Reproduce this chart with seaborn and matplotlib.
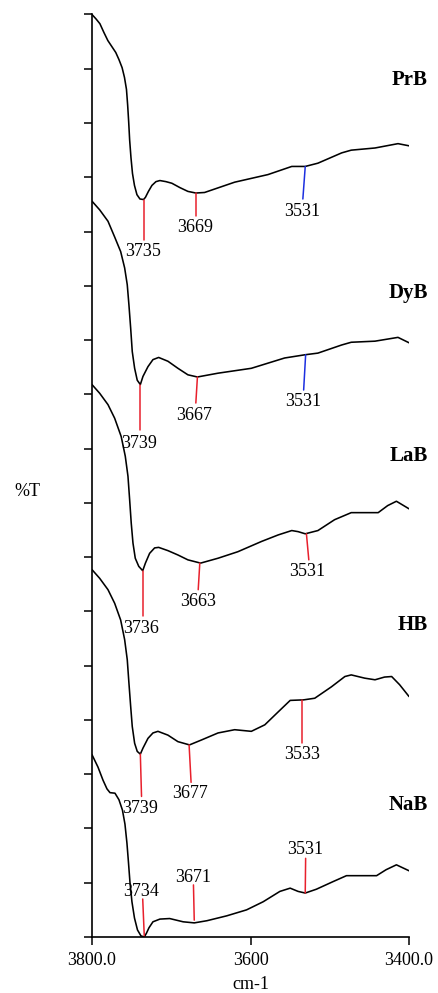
"""IR spectra of the OH region, stacked
"""
import numpy as np
import pandas as pd
import seaborn as sns
import matplotlib.pyplot as plt

sns.set_style("ticks")
plt.rcParams["font.family"] = ["Liberation Serif", "DejaVu Serif"]
for k in ["text.color", "axes.labelcolor", "xtick.color", "ytick.color", "axes.edgecolor"]:
    plt.rcParams[k] = "k"

# spectra, y in stacked tick units (arbitrary %T)
prb_wn = [3800, 3795, 3790, 3785, 3780, 3775, 3770, 3766, 3762, 3759, 3756.5, 3755, 3753.7, 3752.5,
          3750.8, 3748.9, 3746.4, 3743.3, 3739.5, 3735, 3732.6, 3728.8, 3724.4, 3719.3, 3714.3, 3706.7,
          3699.2, 3689.1, 3679, 3669, 3658, 3620, 3578, 3548, 3531, 3515, 3485, 3473, 3443, 3414, 3400]
prb_t = [17.00, 16.92, 16.83, 16.67, 16.52, 16.41, 16.30, 16.17, 16.02, 15.84, 15.62, 15.33, 15.02, 14.69,
         14.36, 14.07, 13.85, 13.68, 13.60, 13.59, 13.63, 13.74, 13.85, 13.92, 13.94, 13.92,
         13.89, 13.81, 13.74, 13.71, 13.72, 13.91, 14.05, 14.20, 14.20, 14.26, 14.45, 14.50, 14.54, 14.62, 14.58]

dyb_wn = [3800, 3790.3, 3779.8, 3771.4, 3763.8, 3758.8, 3755.5, 3753.4, 3751.2, 3749.2, 3746.2, 3742.9,
          3739, 3735.7, 3729.4, 3723.1, 3715.9, 3704.2, 3691.6, 3679, 3667,
          3641, 3599, 3557, 3531, 3515, 3485, 3473, 3443, 3414, 3400]
dyb_t = [13.56, 13.40, 13.19, 12.90, 12.63, 12.33, 12.02, 11.65, 11.22, 10.79, 10.48, 10.26,
         10.18, 10.33, 10.51, 10.64, 10.68, 10.61, 10.48, 10.36, 10.32,
         10.39, 10.48, 10.67, 10.73, 10.76, 10.91, 10.96, 10.98, 11.05, 10.95]

lab_wn = [3800, 3790.3, 3779.8, 3771.4, 3763.1, 3758, 3754.6, 3752.5, 3750.5, 3748.3, 3745.4, 3741,
          3736, 3732.6, 3727.3, 3721, 3715.9, 3704.2, 3691.6, 3679, 3663,
          3641, 3616, 3586, 3565, 3548, 3540, 3531, 3515, 3494, 3473, 3439, 3427, 3416, 3400]
lab_t = [10.18, 10.02, 9.81, 9.56, 9.22, 8.86, 8.49, 8.06, 7.63, 7.26, 6.98, 6.83,
         6.75, 6.89, 7.07, 7.17, 7.18, 7.12, 7.04, 6.95, 6.89,
         6.98, 7.10, 7.29, 7.41, 7.49, 7.47, 7.43, 7.49, 7.69, 7.82, 7.82, 7.95, 8.03, 7.89]

hb_wn = [3800, 3790.3, 3779.8, 3771.4, 3763.8, 3758.8, 3755.5, 3753.4, 3751.2, 3749.2, 3746.2, 3742.9,
         3739, 3735.7, 3729.4, 3723.1, 3716.8, 3704.2, 3691.6, 3677,
         3662, 3641, 3620, 3599, 3582, 3565, 3550, 3533, 3519, 3498, 3481, 3473, 3456, 3443, 3431, 3422, 3412, 3400]
hb_t = [6.77, 6.61, 6.40, 6.15, 5.84, 5.48, 5.11, 4.68, 4.25, 3.88, 3.57, 3.42,
        3.37, 3.48, 3.66, 3.76, 3.79, 3.72, 3.60, 3.54,
        3.63, 3.76, 3.82, 3.79, 3.91, 4.15, 4.36, 4.37, 4.40, 4.61, 4.80, 4.83, 4.77, 4.74, 4.79, 4.80, 4.65, 4.43]

nab_wn = [3800, 3792.4, 3786.1, 3781.1, 3777.3, 3771, 3766, 3761.6, 3758.4, 3755.9, 3754, 3752.1, 3749.6,
          3746.4, 3742.6, 3738.2, 3734, 3731.3, 3728.1, 3723.1, 3714.3, 3702,
          3685, 3671, 3655, 3630, 3605, 3584, 3563, 3550, 3540, 3531, 3517, 3496, 3479, 3441, 3429, 3416, 3400]
nab_t = [3.36, 3.13, 2.89, 2.73, 2.66, 2.65, 2.53, 2.34, 2.08, 1.73, 1.38, 1.01, 0.65,
         0.35, 0.13, 0.02, 0.0, 0.07, 0.17, 0.28, 0.33, 0.34,
         0.28, 0.26, 0.30, 0.39, 0.50, 0.65, 0.84, 0.90, 0.84, 0.81, 0.88, 1.02, 1.13, 1.13, 1.24, 1.33, 1.22]

samples = ["PrB", "DyB", "LaB", "HB", "NaB"]
sample_label_y = [15.80, 11.87, 8.86, 5.75, 2.43]

# peak marks: text, line start (wn, t), line end (wn, t), text centre (wn, t), colour
peaks = [
    ("3735", 3735, 13.59, 3735, 12.85, 3735.5, 12.63, "r"),
    ("3669", 3669, 13.71, 3669, 13.29, 3670.5, 13.07, "r"),
    ("3531", 3531, 14.20, 3534, 13.60, 3535, 13.37, "b"),
    ("3739", 3739, 10.18, 3739, 9.35, 3740.5, 9.10, "r"),
    ("3667", 3667, 10.32, 3669, 9.84, 3671, 9.61, "r"),
    ("3531", 3530.5, 10.73, 3533, 10.08, 3534, 9.87, "b"),
    ("3736", 3736, 6.75, 3736, 5.91, 3738.5, 5.69, "r"),
    ("3663", 3664, 6.89, 3666, 6.40, 3666.5, 6.18, "r"),
    ("3531", 3529.5, 7.43, 3526.5, 6.95, 3528, 6.73, "r"),
    ("3739", 3739, 3.37, 3737.5, 2.59, 3739.5, 2.37, "r"),
    ("3677", 3677.5, 3.54, 3675, 2.85, 3676.5, 2.64, "r"),
    ("3533", 3535, 4.37, 3535, 3.58, 3535, 3.36, "r"),
    ("3734", 3734, 0.0, 3736, 0.70, 3737.5, 0.84, "r"),
    ("3671", 3671, 0.31, 3672, 0.96, 3672.5, 1.10, "r"),
    ("3531", 3531, 0.81, 3530.5, 1.45, 3531.5, 1.62, "r"),
]
COLORS = dict(r="#e8202c", b="#1c2fe0")

df = pd.concat([
    pd.DataFrame(dict(wn=w, t=t, sample=s))
    for s, w, t in zip(samples, [prb_wn, dyb_wn, lab_wn, hb_wn, nab_wn],
                       [prb_t, dyb_t, lab_t, hb_t, nab_t])
])

fig = plt.figure(figsize=(4.38, 9.93), dpi=100)
ax = fig.add_axes([0.21, 0.0564, 0.724, 0.929])

sns.lineplot(data=df, x="wn", y="t", hue="sample", hue_order=samples,
             palette=["k"] * 5, sort=False, estimator=None, lw=1.15, legend=False, ax=ax)

for txt, x0, y0, x1, y1, xt, yt, col in peaks:
    ax.plot([x0, x1], [y0, y1], color=COLORS[col], lw=1.1)
    ax.text(xt, yt, txt, ha="center", va="center", fontsize=13)

for s, y in zip(samples, sample_label_y):
    ax.text(3376, y, s, ha="right", va="center", fontsize=15, fontweight="bold", clip_on=False)

ax.set_xlim(3800, 3400)
ax.set_ylim(0, 17)
ax.set_xticks([3800, 3600, 3400])
ax.set_xticklabels(["3800.0", "3600", "3400.0"], fontsize=13)
ax.set_yticks(np.arange(0, 18))
ax.set_yticklabels([])
ax.tick_params(length=6, width=1.1, color="k")
ax.tick_params(axis="x", pad=5)
ax.set_xlabel("cm-1", fontsize=13, labelpad=5)
ax.set_ylabel("")
fig.text(27 / 438, 1 - 492 / 993, "%T", ha="center", va="center", fontsize=13)
ax.spines["top"].set_visible(False)
ax.spines["right"].set_visible(False)
for sp in ["left", "bottom"]:
    ax.spines[sp].set_linewidth(1.2)

plt.savefig("out.png")
plt.close()
